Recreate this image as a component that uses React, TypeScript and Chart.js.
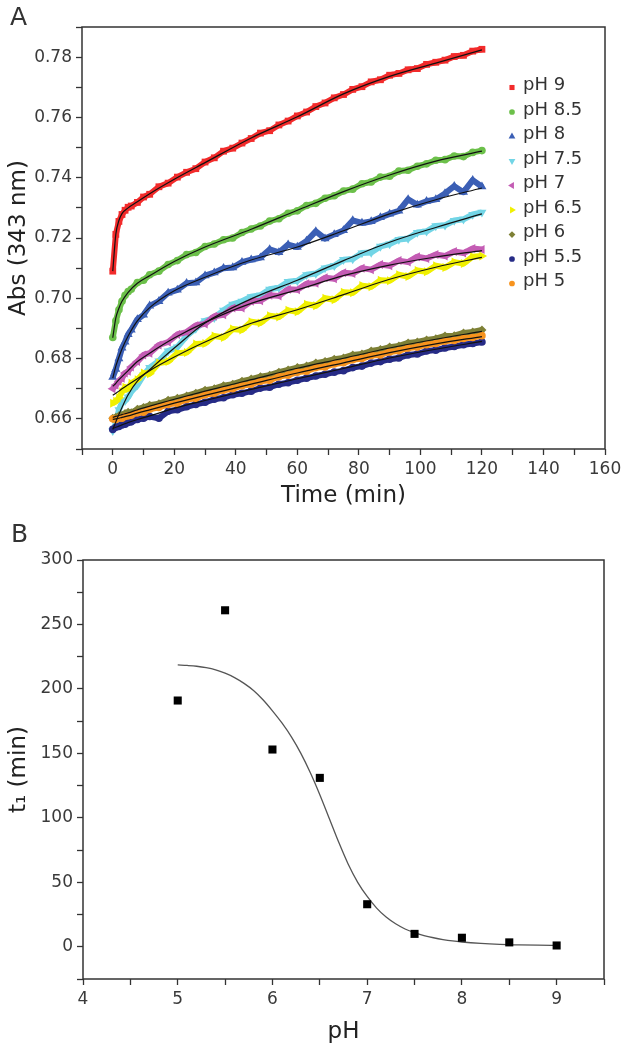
import React, { useEffect, useRef } from 'react';
import { Chart, registerables } from 'chart.js';

Chart.register(...registerables);

// ---------- Panel A data ----------
const obsTimes = [0, 1, 2, 3, 4, 5, 6, 8, 10, 12, 15, 18, 21, 24, 27, 30, 33, 36, 39, 42, 45, 48, 51, 54, 57, 60, 63, 66, 69, 72, 75, 78, 81, 84, 87, 90, 93, 96, 99, 102, 105, 108, 111, 114, 117, 120];

const absPH9 = [0.709, 0.7212, 0.7255, 0.7278, 0.7292, 0.7302, 0.7306, 0.7318, 0.7336, 0.7345, 0.7370, 0.7382, 0.7402, 0.7418, 0.7430, 0.7452, 0.7466, 0.7488, 0.7498, 0.7515, 0.7530, 0.7548, 0.7556, 0.7575, 0.7588, 0.7605, 0.7618, 0.7636, 0.7648, 0.7665, 0.7676, 0.7693, 0.7702, 0.7718, 0.7725, 0.7740, 0.7746, 0.7758, 0.7762, 0.7776, 0.7783, 0.7790, 0.7802, 0.7806, 0.7820, 0.7826];
const absPH85 = [0.6870, 0.6925, 0.6962, 0.6990, 0.7010, 0.7022, 0.7030, 0.7052, 0.7060, 0.7078, 0.7090, 0.7112, 0.7125, 0.7145, 0.7152, 0.7172, 0.7180, 0.7194, 0.7200, 0.7218, 0.7230, 0.7240, 0.7256, 0.7264, 0.7282, 0.7290, 0.7308, 0.7315, 0.7332, 0.7340, 0.7356, 0.7362, 0.7380, 0.7386, 0.7402, 0.7405, 0.7422, 0.7425, 0.7438, 0.7446, 0.7458, 0.7460, 0.7472, 0.7470, 0.7484, 0.7490];
const absPH8 = [0.6738, 0.6765, 0.6800, 0.6835, 0.6855, 0.6880, 0.6895, 0.6930, 0.6945, 0.6975, 0.6990, 0.7018, 0.7028, 0.7050, 0.7052, 0.7075, 0.7085, 0.7100, 0.7102, 0.7120, 0.7128, 0.7135, 0.7162, 0.7152, 0.7178, 0.7170, 0.7190, 0.7222, 0.7198, 0.7212, 0.7225, 0.7258, 0.7250, 0.7255, 0.7268, 0.7280, 0.7290, 0.7328, 0.7310, 0.7322, 0.7328, 0.7348, 0.7372, 0.7352, 0.7392, 0.7370];
const absPH75 = [0.6560, 0.6585, 0.6630, 0.6655, 0.6660, 0.6672, 0.6690, 0.6712, 0.6745, 0.6770, 0.6792, 0.6825, 0.6838, 0.6875, 0.6900, 0.6925, 0.6935, 0.6960, 0.6980, 0.6990, 0.7005, 0.7010, 0.7030, 0.7035, 0.7055, 0.7058, 0.7078, 0.7082, 0.7100, 0.7108, 0.7128, 0.7130, 0.7150, 0.7152, 0.7172, 0.7180, 0.7195, 0.7198, 0.7218, 0.7222, 0.7240, 0.7242, 0.7258, 0.7262, 0.7278, 0.7285];
const absPH7 = [0.6700, 0.6712, 0.6725, 0.6735, 0.6752, 0.6758, 0.6772, 0.6790, 0.6812, 0.6818, 0.6845, 0.6855, 0.6880, 0.6888, 0.6910, 0.6915, 0.6940, 0.6945, 0.6968, 0.6968, 0.6990, 0.6992, 0.7010, 0.7008, 0.7030, 0.7028, 0.7048, 0.7050, 0.7068, 0.7065, 0.7085, 0.7082, 0.7100, 0.7095, 0.7112, 0.7108, 0.7125, 0.7120, 0.7138, 0.7132, 0.7145, 0.7140, 0.7155, 0.7150, 0.7165, 0.7162];
const absPH65 = [0.6652, 0.6658, 0.6670, 0.6690, 0.6705, 0.6700, 0.6718, 0.6730, 0.6752, 0.6750, 0.6785, 0.6790, 0.6818, 0.6820, 0.6848, 0.6850, 0.6875, 0.6870, 0.6898, 0.6895, 0.6922, 0.6918, 0.6942, 0.6938, 0.6960, 0.6955, 0.6980, 0.6975, 0.7000, 0.6995, 0.7020, 0.7018, 0.7042, 0.7038, 0.7060, 0.7058, 0.7078, 0.7072, 0.7092, 0.7088, 0.7108, 0.7102, 0.7120, 0.7115, 0.7138, 0.7140];
const absPH6 = [0.6602, 0.6605, 0.6610, 0.6612, 0.6618, 0.6622, 0.6620, 0.6632, 0.6638, 0.6645, 0.6650, 0.6662, 0.6668, 0.6676, 0.6685, 0.6695, 0.6700, 0.6710, 0.6715, 0.6725, 0.6732, 0.6740, 0.6745, 0.6755, 0.6762, 0.6770, 0.6775, 0.6785, 0.6790, 0.6798, 0.6802, 0.6812, 0.6815, 0.6825, 0.6830, 0.6838, 0.6842, 0.6852, 0.6855, 0.6862, 0.6866, 0.6875, 0.6876, 0.6885, 0.6888, 0.6895];
const absPH55 = [0.6565, 0.6572, 0.6575, 0.6580, 0.6582, 0.6588, 0.6590, 0.6598, 0.6602, 0.6608, 0.6602, 0.6625, 0.6630, 0.6640, 0.6648, 0.6655, 0.6665, 0.6670, 0.6680, 0.6685, 0.6692, 0.6702, 0.6705, 0.6715, 0.6720, 0.6728, 0.6735, 0.6742, 0.6748, 0.6755, 0.6760, 0.6770, 0.6775, 0.6785, 0.6790, 0.6798, 0.6802, 0.6812, 0.6815, 0.6825, 0.6828, 0.6835, 0.6840, 0.6846, 0.6850, 0.6855];
const absPH5 = [0.6600, 0.6598, 0.6603, 0.6602, 0.6608, 0.6610, 0.6612, 0.6620, 0.6622, 0.6632, 0.6638, 0.6648, 0.6652, 0.6664, 0.6668, 0.6680, 0.6685, 0.6695, 0.6700, 0.6710, 0.6715, 0.6725, 0.6728, 0.6740, 0.6745, 0.6755, 0.6758, 0.6770, 0.6772, 0.6782, 0.6786, 0.6796, 0.6800, 0.6810, 0.6812, 0.6822, 0.6826, 0.6835, 0.6838, 0.6846, 0.6850, 0.6858, 0.6860, 0.6867, 0.6870, 0.6876];

// fitted curves (black lines) read at these times
const fitTimes = [0, 1, 2, 3, 5, 8, 12, 20, 30, 45, 60, 75, 90, 105, 120];
const fitPH9 = [0.709, 0.7213, 0.7258, 0.7281, 0.7300, 0.7320, 0.7347, 0.7395, 0.745, 0.7532, 0.7602, 0.7678, 0.7736, 0.778, 0.7824];
const fitPH85 = [0.6869, 0.6935, 0.6967, 0.699, 0.702, 0.705, 0.7075, 0.7122, 0.717, 0.7229, 0.7292, 0.7354, 0.7409, 0.7455, 0.7488];
const fitPH8 = [0.6735, 0.6775, 0.6805, 0.6832, 0.6875, 0.6925, 0.6969, 0.7025, 0.707, 0.7127, 0.717, 0.7224, 0.728, 0.7327, 0.7366];
const fitPH75 = [0.6565, 0.659, 0.6615, 0.6638, 0.668, 0.6725, 0.6763, 0.6835, 0.6918, 0.6998, 0.706, 0.7125, 0.7186, 0.7235, 0.728];
const fitPH7 = [0.6708, 0.6718, 0.673, 0.674, 0.676, 0.679, 0.6818, 0.6868, 0.692, 0.6983, 0.7028, 0.7075, 0.711, 0.7137, 0.7158];
const fitPH65 = [0.6678, 0.6685, 0.6692, 0.670, 0.6713, 0.6733, 0.676, 0.6805, 0.6855, 0.6917, 0.6962, 0.7012, 0.7063, 0.7103, 0.7136];
const fitPH6 = [0.6605, 0.6608, 0.6611, 0.6614, 0.662, 0.663, 0.6642, 0.6665, 0.6692, 0.673, 0.6768, 0.6801, 0.6835, 0.6864, 0.689];
const fitPH55 = [0.6568, 0.6572, 0.6576, 0.658, 0.6588, 0.6598, 0.661, 0.6635, 0.6661, 0.6698, 0.6733, 0.6767, 0.6802, 0.6831, 0.6857];
const fitPH5 = [0.6598, 0.66, 0.6602, 0.6605, 0.661, 0.6619, 0.663, 0.6652, 0.6678, 0.6715, 0.6752, 0.6786, 0.682, 0.6849, 0.6873];

const seriesLabels = ['pH 9', 'pH 8.5', 'pH 8', 'pH 7.5', 'pH 7', 'pH 6.5', 'pH 6', 'pH 5.5', 'pH 5'];
const seriesObs = [absPH9, absPH85, absPH8, absPH75, absPH7, absPH65, absPH6, absPH55, absPH5];
const seriesFit = [fitPH9, fitPH85, fitPH8, fitPH75, fitPH7, fitPH65, fitPH6, fitPH55, fitPH5];

// ---------- Panel B data ----------
const pHValues = [5, 5.5, 6, 6.5, 7, 7.5, 8, 8.5, 9];
const t1Values = [191, 261, 153, 131, 33, 10, 7, 3.4, 1];
const fitCurvePH = [5.0, 5.1, 5.2, 5.3, 5.4, 5.5, 5.6, 5.7, 5.8, 5.9, 6.0, 6.1, 6.2, 6.3, 6.4, 6.5, 6.6, 6.7, 6.8, 6.9, 7.0, 7.1, 7.2, 7.3, 7.4, 7.5, 7.6, 7.7, 7.8, 7.9, 8.0, 8.2, 8.4, 8.6, 8.8, 9.0];
const fitCurveT1 = [218.6, 218.2, 217.6, 216.5, 214.8, 212.2, 208.8, 204.3, 198.8, 191.6, 183.0, 173.6, 162.8, 150.0, 135.0, 118.0, 99.5, 81.0, 64.0, 50.0, 39.0, 30.0, 23.0, 17.8, 13.8, 10.9, 8.7, 7.0, 5.6, 4.5, 3.7, 2.6, 1.9, 1.5, 1.25, 1.1];

// ---------- styles ----------
const FONT = '"DejaVu Sans", "Liberation Sans", sans-serif';
const seriesStyle = [
  { color: '#F22B2B', style: 'rect', rot: 0, r: 4.8 },
  { color: '#6CC04A', style: 'circle', rot: 0, r: 3.8 },
  { color: '#3B5FB5', style: 'triangle', rot: 0, r: 5.2 },
  { color: '#72D5E6', style: 'triangle', rot: 180, r: 5.2 },
  { color: '#C45CB4', style: 'triangle', rot: -90, r: 5.2 },
  { color: '#F0F000', style: 'triangle', rot: 90, r: 5.2 },
  { color: '#7E8036', style: 'rectRot', rot: 0, r: 4.5 },
  { color: '#262B86', style: 'circle', rot: 0, r: 3.8 },
  { color: '#F7931E', style: 'circle', rot: 0, r: 3.8 },
];

function drawMarker(ctx: CanvasRenderingContext2D, style: string, rot: number, x: number, y: number, r: number, color: string) {
  ctx.save();
  ctx.fillStyle = color;
  ctx.translate(x, y);
  ctx.rotate((rot * Math.PI) / 180);
  ctx.beginPath();
  if (style === 'rect') {
    const s = r * Math.SQRT1_2;
    ctx.rect(-s, -s, 2 * s, 2 * s);
  } else if (style === 'circle') {
    ctx.arc(0, 0, r, 0, Math.PI * 2);
  } else if (style === 'triangle') {
    const a = (2 * Math.PI) / 3;
    ctx.moveTo(0, -r);
    ctx.lineTo(Math.sin(a) * r, -Math.cos(a) * r);
    ctx.lineTo(Math.sin(2 * a) * r, -Math.cos(2 * a) * r);
    ctx.closePath();
  } else {
    ctx.moveTo(0, -r);
    ctx.lineTo(r, 0);
    ctx.lineTo(0, r);
    ctx.lineTo(-r, 0);
    ctx.closePath();
  }
  ctx.fill();
  ctx.restore();
}

const framePlugin = {
  id: 'frameBox',
  afterDraw(chart: any) {
    const { ctx, chartArea: a } = chart;
    ctx.save();
    ctx.strokeStyle = '#333';
    ctx.lineWidth = 1.5;
    ctx.strokeRect(a.left, a.top, a.right - a.left, a.bottom - a.top);
    ctx.restore();
  },
};

const legendPlugin = {
  id: 'phLegend',
  afterDraw(chart: any) {
    const ctx = chart.ctx as CanvasRenderingContext2D;
    ctx.save();
    ctx.font = `18px ${FONT}`;
    ctx.textBaseline = 'middle';
    seriesLabels.forEach((label, i) => {
      const y = 85.5 + i * 24.5;
      const st = seriesStyle[i];
      drawMarker(ctx, st.style, st.rot, 512, y + 2, st.r * 0.75, st.color);
      ctx.fillStyle = '#333';
      ctx.fillText(label, 523, y);
    });
    ctx.restore();
  },
};

function topConfig(): any {
  const dataSets: any[] = [];
  seriesFit.forEach((fit) => {
    dataSets.push({
      label: 'fit',
      data: fitTimes.map((t, i) => ({ x: t, y: fit[i] })),
      showLine: true,
      borderColor: '#111',
      borderWidth: 1.2,
      pointRadius: 0,
      cubicInterpolationMode: 'monotone',
      order: 0,
    });
  });
  seriesObs.forEach((obs, k) => {
    const st = seriesStyle[k];
    dataSets.push({
      label: seriesLabels[k],
      data: obsTimes.map((t, i) => ({ x: t, y: obs[i] })),
      showLine: true,
      borderColor: st.color,
      borderWidth: 6,
      borderJoinStyle: 'round',
      pointStyle: st.style,
      pointRotation: st.rot,
      pointRadius: st.r,
      pointBackgroundColor: st.color,
      pointBorderWidth: 0,
      order: 10 - k,
    });
  });
  return {
    type: 'scatter',
    data: { datasets: dataSets },
    options: {
      responsive: false,
      animation: false,
      events: [],
      layout: { padding: { top: 27, right: 22, bottom: 5, left: 0 } },
      plugins: { legend: { display: false }, tooltip: { enabled: false } },
      scales: {
        x: {
          type: 'linear',
          min: -10,
          max: 160,
          afterFit: (s: any) => { s.height = 61; },
          border: { display: false },
          grid: { display: true, drawOnChartArea: false, drawTicks: true, tickLength: 6, tickColor: '#333', tickWidth: 1.3 },
          ticks: {
            stepSize: 10,
            autoSkip: false,
            maxRotation: 0,
            padding: 4,
            color: '#3a3a3a',
            font: { family: FONT, size: 17 },
            callback: (v: any) => { const n = Math.round(Number(v)); return n >= 0 && n % 20 === 0 ? String(n) : ''; },
          },
          title: { display: true, text: 'Time (min)', color: '#222', font: { family: FONT, size: 23 }, padding: { top: 0, bottom: 0 } },
        },
        y: {
          type: 'linear',
          min: 0.65,
          max: 0.79,
          afterFit: (s: any) => { s.width = 82; },
          border: { display: false },
          grid: { display: true, drawOnChartArea: false, drawTicks: true, tickLength: 6, tickColor: '#333', tickWidth: 1.3 },
          ticks: {
            stepSize: 0.01,
            autoSkip: false,
            padding: 4,
            color: '#3a3a3a',
            font: { family: FONT, size: 17 },
            callback: (v: any) => { const n = Math.round(Number(v) * 100); return n % 2 === 0 && n >= 66 && n <= 78 ? (n / 100).toFixed(2) : ''; },
          },
          title: { display: true, text: 'Abs (343 nm)', color: '#222', font: { family: FONT, size: 23 }, padding: { top: 5, bottom: 0 } },
        },
      },
    },
    plugins: [framePlugin, legendPlugin],
  };
}

function bottomConfig(): any {
  return {
    type: 'scatter',
    data: {
      datasets: [
        {
          label: 't1',
          data: pHValues.map((p, i) => ({ x: p, y: t1Values[i] })),
          pointStyle: 'rect',
          pointRadius: 5.7,
          pointBackgroundColor: '#000',
          pointBorderWidth: 0,
          order: 0,
        },
        {
          label: 'fit',
          data: fitCurvePH.map((p, i) => ({ x: p, y: fitCurveT1[i] })),
          showLine: true,
          borderColor: '#555',
          borderWidth: 1.3,
          pointRadius: 0,
          cubicInterpolationMode: 'monotone',
          order: 1,
        },
      ],
    },
    options: {
      responsive: false,
      animation: false,
      events: [],
      layout: { padding: { top: 45, right: 23, bottom: 4, left: 0 } },
      plugins: { legend: { display: false }, tooltip: { enabled: false } },
      scales: {
        x: {
          type: 'linear',
          min: 4,
          max: 9.5,
          afterFit: (s: any) => { s.height = 67; },
          border: { display: false },
          grid: { display: true, drawOnChartArea: false, drawTicks: true, tickLength: 6, tickColor: '#333', tickWidth: 1.3 },
          ticks: {
            stepSize: 0.5,
            autoSkip: false,
            maxRotation: 0,
            padding: 4,
            color: '#3a3a3a',
            font: { family: FONT, size: 17 },
            callback: (v: any) => { const n = Number(v); return Math.abs(n - Math.round(n)) < 1e-6 && n <= 9 ? String(Math.round(n)) : ''; },
          },
          title: { display: true, text: 'pH', color: '#222', font: { family: FONT, size: 23 }, padding: { top: 0, bottom: 0 } },
        },
        y: {
          type: 'linear',
          min: -25,
          max: 300,
          afterFit: (s: any) => { s.width = 83; },
          border: { display: false },
          grid: { display: true, drawOnChartArea: false, drawTicks: true, tickLength: 6, tickColor: '#333', tickWidth: 1.3 },
          ticks: {
            stepSize: 25,
            autoSkip: false,
            padding: 4,
            color: '#3a3a3a',
            font: { family: FONT, size: 17 },
            callback: (v: any) => { const n = Math.round(Number(v)); return n >= 0 && n % 50 === 0 ? String(n) : ''; },
          },
          title: { display: true, text: 't\u2081 (min)', color: '#222', font: { family: FONT, size: 23 }, padding: { top: 5, bottom: 0 } },
        },
      },
    },
    plugins: [framePlugin],
  };
}

export default function App() {
  const topRef = useRef<HTMLCanvasElement>(null);
  const botRef = useRef<HTMLCanvasElement>(null);
  useEffect(() => {
    const c1 = new Chart(topRef.current as HTMLCanvasElement, topConfig());
    const c2 = new Chart(botRef.current as HTMLCanvasElement, bottomConfig());
    return () => {
      c1.destroy();
      c2.destroy();
    };
  }, []);
  const panelLabel: React.CSSProperties = { position: 'absolute', fontFamily: FONT, fontSize: 25, lineHeight: '25px', color: '#333' };
  return (
    <div style={{ position: 'absolute', left: 0, top: 0, width: 627, height: 1050, background: '#fff' }}>
      <canvas ref={topRef} width={627} height={515} style={{ position: 'absolute', left: 0, top: 0 }} />
      <canvas ref={botRef} width={627} height={535} style={{ position: 'absolute', left: 0, top: 515 }} />
      <div style={{ ...panelLabel, left: 10, top: 4 }}>A</div>
      <div style={{ ...panelLabel, left: 11, top: 521 }}>B</div>
    </div>
  );
}
